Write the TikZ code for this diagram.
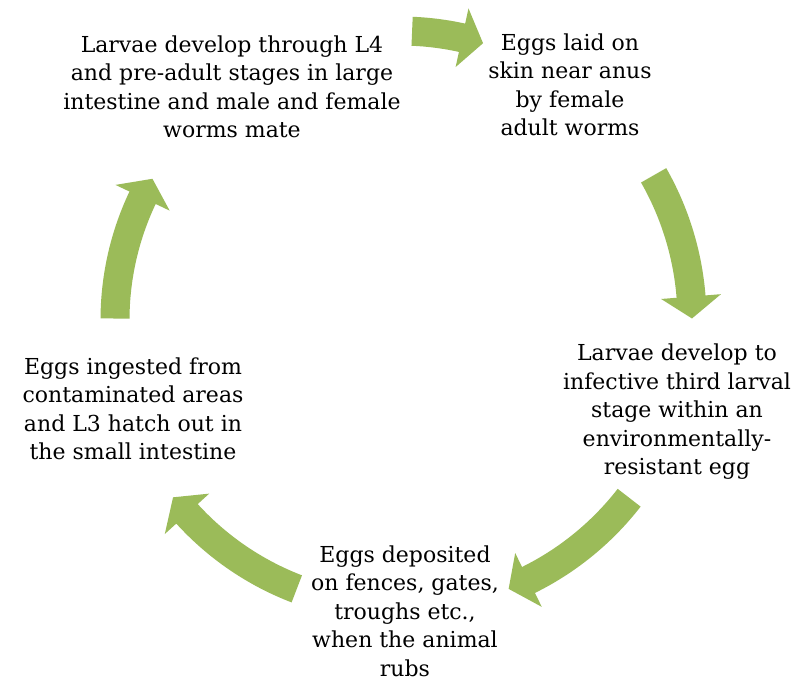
\documentclass[tikz,border=0pt]{standalone}
\usepackage{fontspec}
\setmainfont{DejaVu Serif}
\usetikzlibrary{calc}
\definecolor{arrowgreen}{HTML}{9BBB59}
\newcommand\cyclearrow[3][289]{% [radius] tail angle, tip angle
  \pgfmathsetmacro\hb{#3+4.3}
  \pgfmathsetmacro\ro{#1+14.5}
  \pgfmathsetmacro\ri{#1-14.5}
  \pgfmathsetmacro\hro{#1+30}
  \pgfmathsetmacro\hri{#1-30}
  \fill[arrowgreen] ($(C)+(#2:\ro)$) arc[start angle=#2, end angle=\hb, radius=\ro]
    -- ($(C)+(\hb:\hro)$) -- ($(C)+(#3:#1)$) -- ($(C)+(\hb:\hri)$)
    -- ($(C)+(\hb:\ri)$) arc[start angle=\hb, end angle=#2, radius=\ri] -- cycle;
}
\begin{document}
\begin{tikzpicture}[x=1pt,y=1pt,
  txt/.style={align=center, font=\fontsize{22}{28.5}\selectfont, inner sep=0pt, text=black}]
\useasboundingbox (0,0) rectangle (797,681);
\fill[white] (0,0) rectangle (797,681);
\coordinate (C) at (400,361);
\cyclearrow[289]{87.6}{73.3}
\cyclearrow[292]{29.7}{0.3}
\cyclearrow[290]{-37.8}{-68}
\cyclearrow[288]{-111}{-142}
\cyclearrow[285]{179.7}{150.3}
\node[txt] (n1) at (232,594) {Larvae develop through L4\\and pre-adult stages in large\\intestine and male and female\\worms mate};
\node[txt] (n2) at (570,596) {Eggs laid on\\skin near anus\\by female\\adult worms};
\node[txt] (n3) at (677,269) {Larvae develop to\\infective third larval\\stage within an\\environmentally-\\resistant egg};
\node[txt] (n4) at (405,70) {Eggs deposited\\on fences, gates,\\troughs etc.,\\when the animal\\rubs};
\node[txt] (n5) at (133,272) {Eggs ingested from\\contaminated areas\\and L3 hatch out in\\the small intestine};
\end{tikzpicture}
\end{document}
